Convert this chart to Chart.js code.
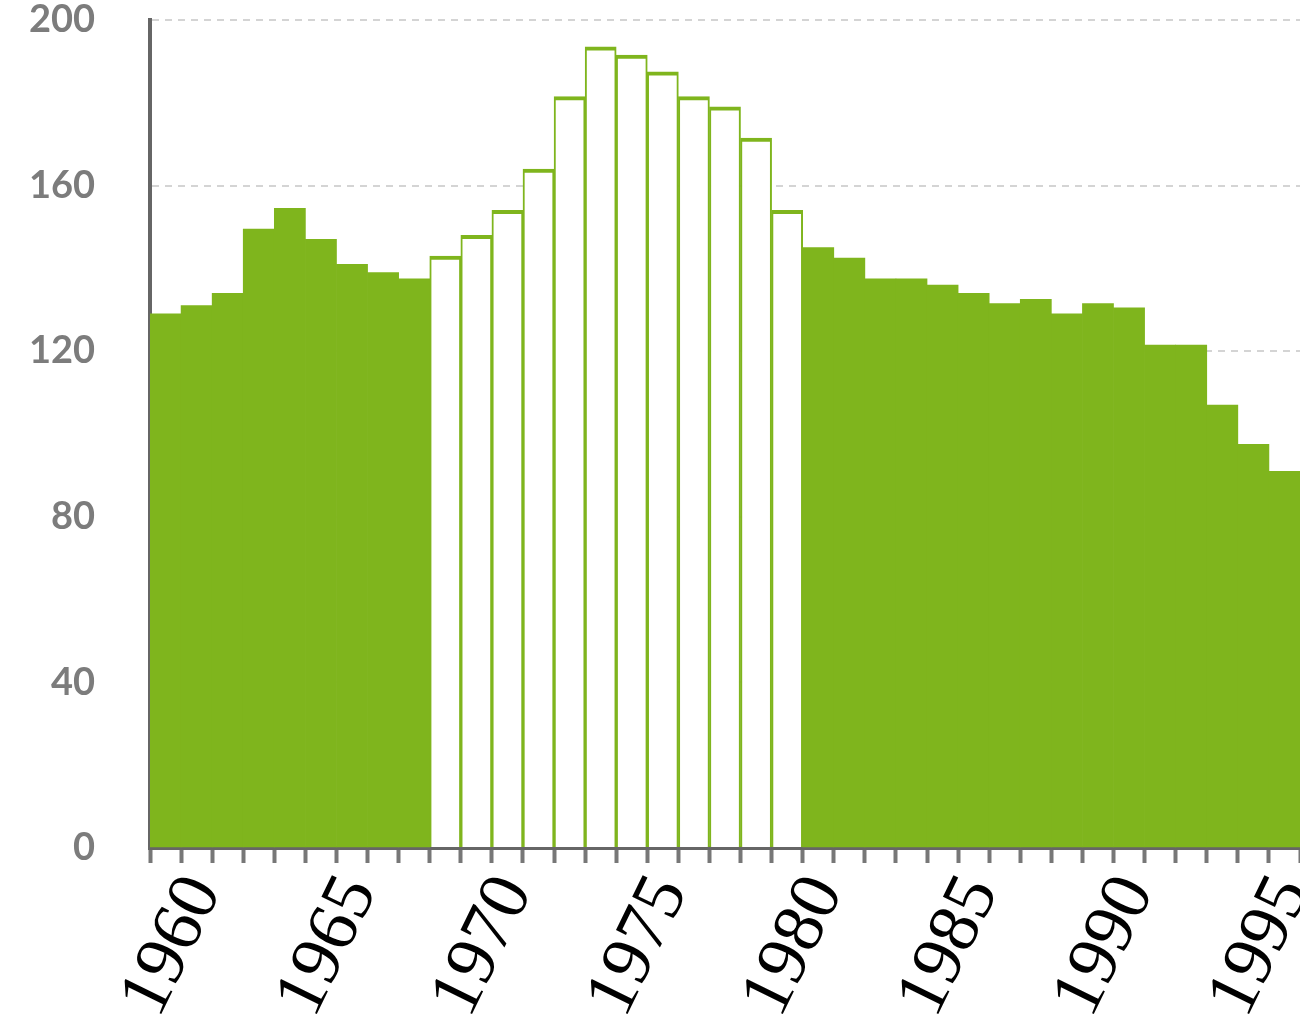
<!DOCTYPE html>
<html>
<head>
<meta charset="utf-8">
<script src="https://cdn.jsdelivr.net/npm/chart.js@4/dist/chart.umd.min.js"></script>
<style>
    html, body { margin: 0; padding: 0; background: #fff; }
    #wrap { width: 1300px; height: 1015px; }
</style>
</head>
<body>
<div id="wrap"><canvas id="chart"></canvas></div>
<script>
const years = [
    "1959", "1960", "1961", "1962", "1963", "1964", "1965", "1966", "1967",
    "1968", "1969", "1970", "1971", "1972", "1973", "1974", "1975", "1976",
    "1977", "1978", "1979", "1980", "1981", "1982", "1983", "1984", "1985",
    "1986", "1987", "1988", "1989", "1990", "1991", "1992", "1993", "1994",
    "1995"
];
const values = [
    129, 131, 134, 149.5, 154.5, 147, 141, 139, 137.5,
    143, 148, 154, 164, 181.5, 193.5, 191.5, 187.5, 181.5,
    179, 171.5, 154, 145, 142.5, 137.5, 137.5, 136, 134,
    131.5, 132.5, 129, 131.5, 130.5, 121.5, 121.5, 107, 97.5,
    91
];
// years drawn as open bars
const open_years = ["1968", "1969", "1970", "1971", "1972", "1973",
    "1974", "1975", "1976", "1977", "1978", "1979"];
const label_years = ["1960", "1965", "1970", "1975", "1980", "1985", "1990", "1995"];
const y_ticks = [0, 40, 80, 120, 160, 200];

const GREEN = "rgb(127,181,29)";

function is_open(i) {
    return open_years.includes(years[i]);
}

window.addEventListener("load", () => {
    const ctx = document.querySelector("#chart");
    window.chart = new Chart(ctx, {
        type: "bar",
        data: {
            labels: years,
            datasets: [{
                data: values,
                backgroundColor: c => is_open(c.dataIndex) ? "#ffffff" : GREEN,
                borderColor: GREEN,
                borderWidth: c => is_open(c.dataIndex) ? {top: 4, left: 2, right: 2, bottom: 0} : 0,
                borderSkipped: "start",
                categoryPercentage: 1,
                barPercentage: 1
            }]
        },
        options: {
            responsive: true,
            maintainAspectRatio: false,
            animation: false,
            layout: {padding: {top: 20, right: 0, bottom: 0, left: 0}},
            plugins: {legend: {display: false}, tooltip: {enabled: false}},
            scales: {
                x: {
                    grid: {
                        drawOnChartArea: false,
                        tickLength: 15,
                        tickWidth: 4,
                        tickColor: "#777"
                    },
                    border: {color: "#666", width: 4},
                    ticks: {
                        autoSkip: false,
                        maxRotation: 64,
                        minRotation: 64,
                        padding: 0,
                        labelOffset: 8,
                        color: "#000",
                        font: {family: "Liberation Serif", size: 72, lineHeight: 1.2},
                        callback: (v, i) => label_years.includes(years[i]) ? years[i] : ""
                    },
                    afterFit: s => {
                        s.height = 167;
                        s.paddingLeft = 0;
                        s.paddingRight = 0;
                    }
                },
                y: {
                    min: 0,
                    max: 200,
                    afterBuildTicks: s => {
                        s.ticks = y_ticks.map(v => ({value: v}));
                    },
                    grid: {
                        color: "#d4d4d4",
                        lineWidth: 2,
                        drawTicks: false
                    },
                    border: {color: "#666", width: 4, dash: [7, 6]},
                    ticks: {
                        padding: 55,
                        color: "#7c7c7c",
                        font: {family: "Lato", size: 38, weight: "bold"}
                    },
                    afterFit: s => {
                        s.width = 150;
                        s.paddingTop = 0;
                        s.paddingBottom = 0;
                    }
                }
            }
        }
    });
});
</script>
</body>
</html>
